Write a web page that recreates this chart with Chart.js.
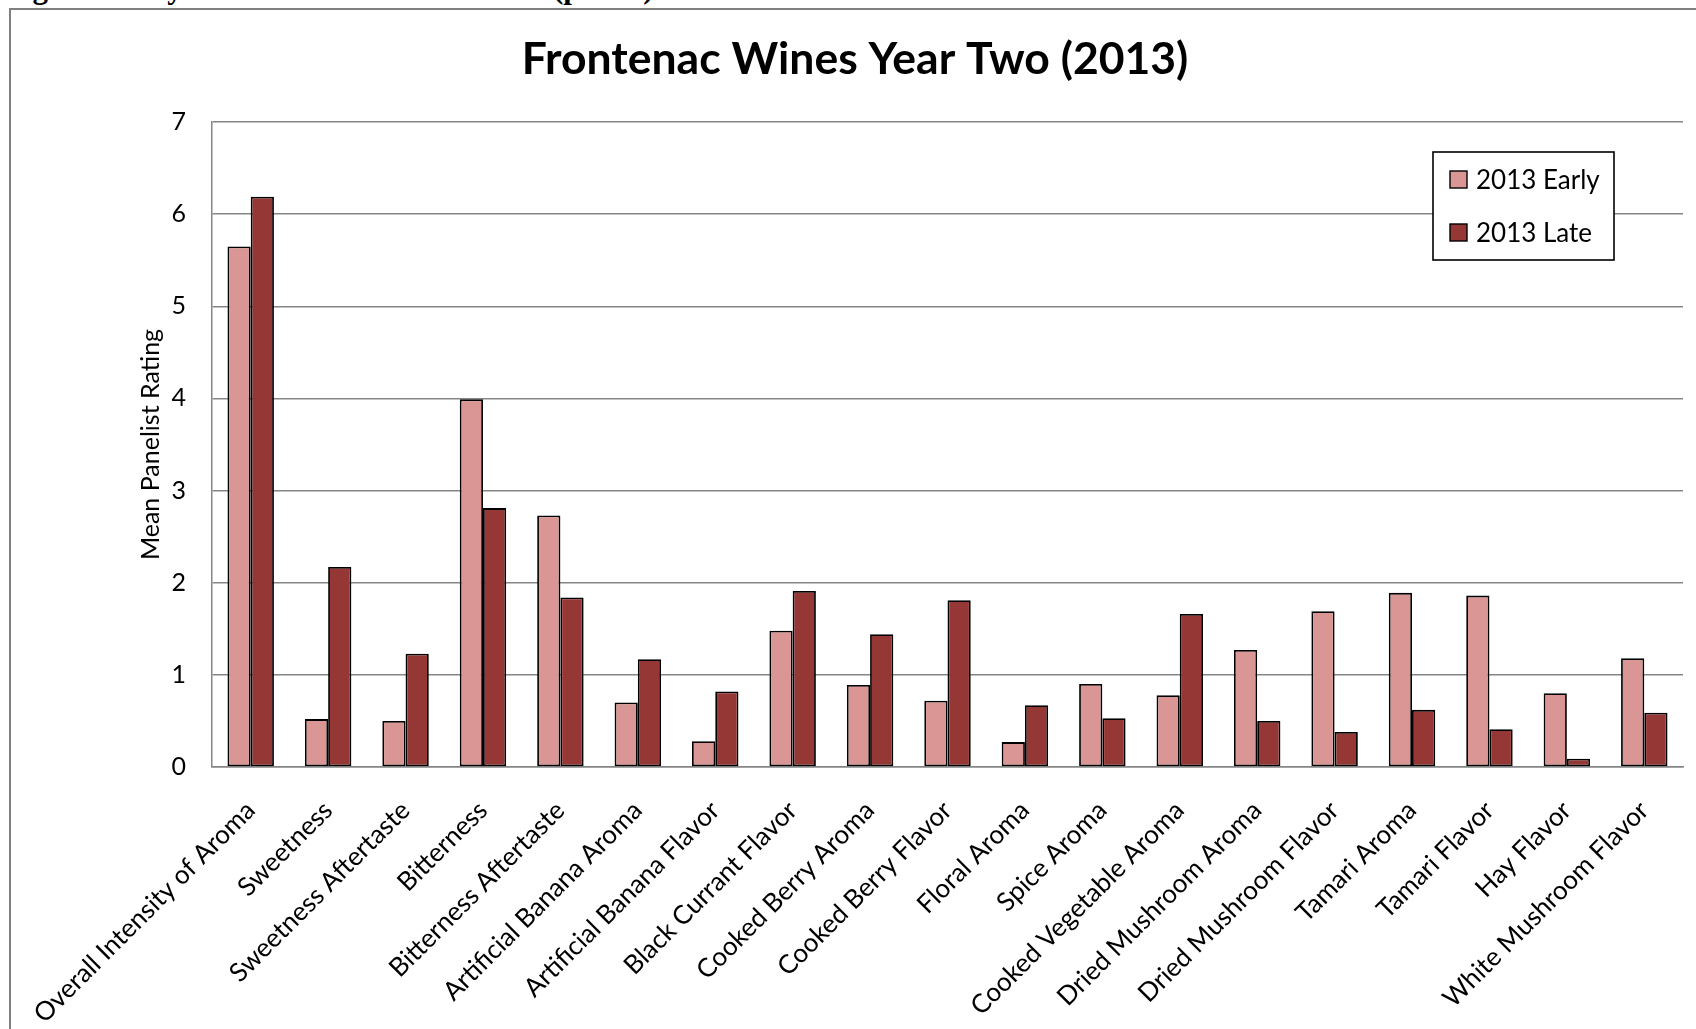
<!DOCTYPE html>
<html>
<head>
<meta charset="utf-8">
<title>Frontenac Wines Year Two (2013)</title>
<script src="https://cdn.jsdelivr.net/npm/chart.js@4.4.1/dist/chart.umd.min.js"></script>
<style>
  html, body { margin: 0; padding: 0; background: #fff; overflow: hidden; }
  #caption {
    position: absolute; left: 5px; top: -28px;
    font: bold 31px/31px "Liberation Serif", "Times New Roman", serif;
    white-space: nowrap; color: #000;
  }
  #frame {
    position: absolute; left: 9px; top: 8px; width: 1720px; height: 1060px;
    border-left: 2px solid #7f7f7f; border-top: 2px solid #7f7f7f;
  }
  #mainChart { position: absolute; left: 0; top: 0; }
</style>
</head>
<body>
<div id="caption">Figure 4. Dry Frontenac Wine Attributes (part 2)</div>
<div id="frame"></div>
<canvas id="mainChart" width="1696" height="1029"></canvas>
<script>
var categories = [
  'Overall Intensity of Aroma', 'Sweetness', 'Sweetness Aftertaste', 'Bitterness',
  'Bitterness Aftertaste', 'Artificial Banana Aroma', 'Artificial Banana Flavor',
  'Black Currant Flavor', 'Cooked Berry Aroma', 'Cooked Berry Flavor', 'Floral Aroma',
  'Spice Aroma', 'Cooked Vegetable Aroma', 'Dried Mushroom Aroma', 'Dried Mushroom Flavor',
  'Tamari Aroma', 'Tamari Flavor', 'Hay Flavor', 'White Mushroom Flavor'
];
var earlyValues = [5.65, 0.52, 0.50, 3.99, 2.73, 0.70, 0.28, 1.48, 0.89, 0.72,
                   0.27, 0.90, 0.78, 1.27, 1.69, 1.89, 1.86, 0.80, 1.18];
var lateValues  = [6.19, 2.17, 1.23, 2.81, 1.84, 1.17, 0.82, 1.91, 1.44, 1.81,
                   0.67, 0.53, 1.66, 0.50, 0.38, 0.62, 0.41, 0.09, 0.59];
var seriesNames = ['2013 Early', '2013 Late'];
var yTickLabels = ['0', '1', '2', '3', '4', '5', '6', '7'];

var gridGrey = '#868686';

// legend box drawn inside the plot, top right
var boxLegend = {
  id: 'boxLegend',
  afterDraw: function(chart) {
    var ctx = chart.ctx;
    ctx.save();
    ctx.lineWidth = 1.6;
    ctx.strokeStyle = '#000';
    ctx.fillStyle = '#fff';
    ctx.fillRect(1433, 152, 181, 108);
    ctx.strokeRect(1433, 152, 181, 108);
    ctx.font = '26px Lato';
    ctx.textBaseline = 'middle';
    chart.data.datasets.forEach(function(ds, i) {
      var y = 179.5 + i * 53;
      ctx.fillStyle = ds.backgroundColor;
      ctx.fillRect(1450, y - 8.5, 17, 17);
      ctx.lineWidth = 1.4;
      ctx.strokeRect(1450, y - 8.5, 17, 17);
      ctx.fillStyle = '#000';
      ctx.fillText(ds.label, 1476, y + 1);
    });
    ctx.restore();
  }
};

var ctx = document.getElementById('mainChart').getContext('2d');
var chart = new Chart(ctx, {
  type: 'bar',
  data: {
    labels: categories,
    datasets: [{
      label: seriesNames[0],
      data: earlyValues,
      backgroundColor: '#D99694',
      borderColor: '#000',
      borderWidth: 1.8,
      borderSkipped: false
    }, {
      label: seriesNames[1],
      data: lateValues,
      backgroundColor: '#953735',
      borderColor: '#000',
      borderWidth: 1.8,
      borderSkipped: false
    }]
  },
  options: {
    responsive: false,
    animation: false,
    devicePixelRatio: 1,
    layout: { padding: { left: 27, right: 13, top: 0, bottom: 0 } },
    font: { family: 'Lato' },
    plugins: {
      legend: { display: false },
      tooltip: { enabled: false },
      title: {
        display: true,
        text: 'Frontenac Wines Year Two (2013)',
        color: '#000',
        font: { family: 'Lato', size: 44.5, weight: 'bold' },
        padding: { top: 33, bottom: 35.6 }
      }
    },
    datasets: {
      bar: { categoryPercentage: 0.6, barPercentage: 1.0 }
    },
    scales: {
      x: {
        grid: { display: false, drawTicks: false },
        border: { color: gridGrey, width: 1.5 },
        ticks: {
          color: '#000',
          font: { family: 'Lato', size: 26 },
          autoSkip: false,
          minRotation: 45,
          maxRotation: 45,
          padding: 28
        },
        afterFit: function(scale) { scale.height = 262; }
      },
      y: {
        min: 0,
        max: 7,
        grid: { color: gridGrey, lineWidth: 1.5, drawTicks: false },
        border: { color: gridGrey, width: 1.5 },
        ticks: {
          stepSize: 1,
          color: '#000',
          padding: 26,
          font: { family: 'Lato', size: 25 },
          callback: function(value, index) { return yTickLabels[index]; }
        },
        title: {
          display: true,
          text: 'Mean Panelist Rating',
          color: '#000',
          font: { family: 'Lato', size: 25 },
          padding: { top: 109, bottom: 0 }
        },
        afterFit: function(scale) { scale.width = 185; }
      }
    }
  },
  plugins: [boxLegend]
});
</script>
</body>
</html>
